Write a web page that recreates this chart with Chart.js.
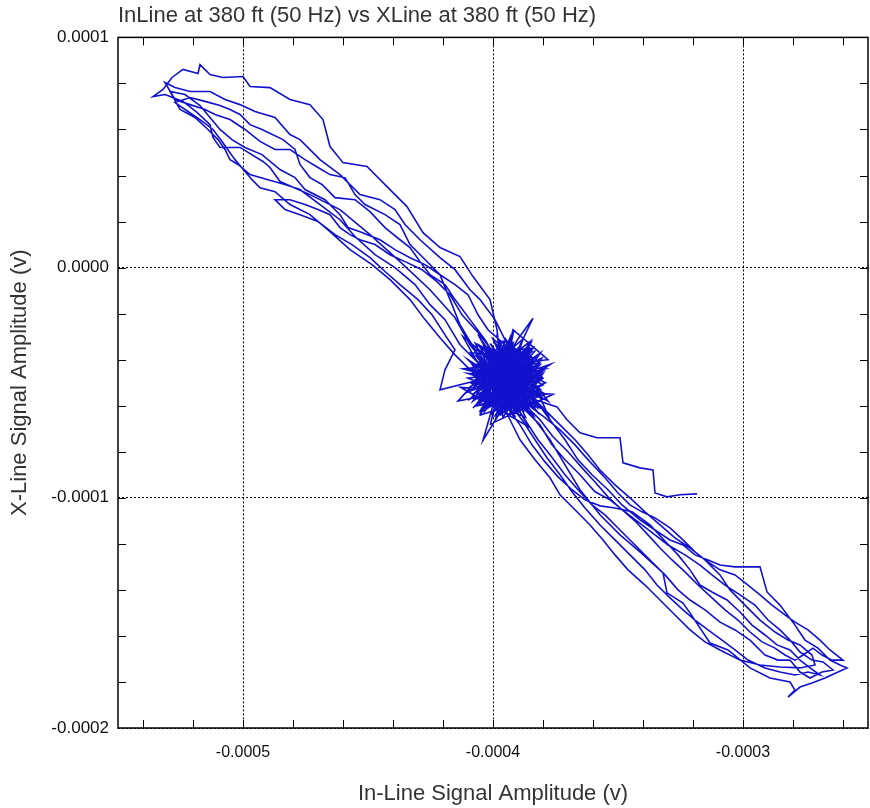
<!doctype html>
<html lang="en">
  <head>
    <meta charset="UTF-8" />
    <title>InLine vs XLine</title>
    <script src="https://cdn.jsdelivr.net/npm/chart.js"></script>
    <style>
      html, body { margin: 0; padding: 0; background: #fff; }
    </style>
  </head>
  <body>
    <canvas id="myChart" width="870" height="808"></canvas>
    <script>
      // trace, in microvolts: [in-line, x-line]
      const blobA = [[-395,-47],[-384,-44],[-405,-55],[-389,-36],[-398,-60],[-407,-42],[-382,-52],[-401,-35],[-392,-61],[-409,-50],[-385,-39],[-397,-58],[-404,-38],[-383,-57],[-400,-46],[-388,-62],[-406,-57],[-386,-34],[-394,-52],[-410,-46],[-381,-48],[-399,-37],[-391,-59],[-403,-51],[-384,-41],[-396,-63],[-404,-33],[-388,-50],[-402,-61],[-380,-45],[-407,-49],[-390,-38],[-393,-55],[-385,-60],[-400,-42]]
      const upper1 = [[-397.2,-40.0],[-398.4,-27.0],[-401.2,-13.9],[-408.0,-3.9],[-413.2,4.8],[-421.2,8.7],[-428.0,15.2],[-434.4,26.5],[-441.2,33.9],[-450.4,43.9],[-460.0,45.6],[-465.2,52.6],[-468.0,64.3],[-473.2,70.8],[-481.2,73.0],[-489.2,78.2],[-497.2,78.7],[-500.0,83.0],[-508.0,82.6],[-513.2,83.9],[-517.2,88.2],[-518.0,84.3],[-524.0,86.1],[-528.4,82.6],[-532.0,77.4],[-536.0,74.3],[-531.2,75.2],[-524.0,72.2],[-518.4,67.4],[-513.2,62.1],[-512.0,56.5],[-509.2,52.2],[-501.2,52.2],[-492.0,46.1],[-489.2,43.5],[-485.2,37.4],[-473.2,31.7],[-461.2,25.2],[-449.2,14.3],[-437.2,2.6],[-425.2,-9.6],[-415.2,-21.8],[-409.2,-33.5],[-401.2,-44.4]]
      const blobB = [[-398,-45],[-386,-58],[-404,-40],[-381,-42],[-399,-62],[-392,-33],[-408,-53],[-387,-47],[-401,-57],[-383,-36],[-396,-50],[-410,-40],[-389,-63],[-394,-40],[-406,-60],[-382,-55],[-391,-44],[-403,-47],[-385,-32],[-397,-54],[-408,-35],[-379,-50],[-395,-58],[-402,-38],[-387,-55],[-393,-30],[-405,-63],[-384,-48],[-399,-51],[-389,-41]]
      const lower1 = [[-389.2,-50.9],[-383.2,-57.4],[-377.2,-66.1],[-371.2,-74.8],[-366.0,-83.5],[-360.4,-90.0],[-354.0,-96.5],[-348.4,-103.1],[-341.2,-109.6],[-335.2,-114.0],[-329.2,-118.3],[-324.0,-120.5],[-319.2,-124.8],[-314.0,-127.0],[-309.2,-129.2],[-303.2,-130.0],[-298.0,-130.0],[-293.2,-130.0],[-290.4,-140.9],[-285.2,-146.6],[-279.2,-155.3],[-275.2,-161.8],[-270.0,-165.3],[-265.2,-170.5],[-261.2,-172.6],[-258.4,-173.9],[-262.0,-175.7],[-267.2,-178.3],[-272.4,-180.5],[-277.2,-182.2],[-282.0,-186.6],[-279.2,-183.5],[-281.2,-180.0],[-289.2,-178.3],[-297.2,-173.9],[-306.0,-166.1],[-313.2,-163.1],[-321.2,-150.0],[-324.0,-145.7],[-330.4,-141.3],[-332.0,-132.6],[-341.2,-123.5],[-349.2,-116.1],[-357.2,-107.4],[-365.2,-96.5],[-371.2,-85.7],[-377.2,-74.8],[-383.2,-66.1],[-389.2,-57.4]]
      const blobF = [[-390,-50],[-404,-44],[-386,-61],[-399,-33],[-381,-53],[-407,-60],[-393,-38],[-384,-47],[-401,-64],[-396,-42],[-379,-44],[-405,-51],[-389,-34],[-398,-56],[-383,-39],[-409,-37],[-392,-60],[-387,-43],[-403,-58],[-395,-31],[-380,-57],[-400,-48],[-391,-65],[-406,-41],[-385,-50],[-397,-46],[-382,-63],[-402,-34],[-394,-57],[-388,-37],[-408,-55],[-390,-44],[-399,-61],[-384,-35],[-404,-49],[-393,-53],[-381,-40],[-396,-65],[-401,-39],[-387,-57]]
      const upper2 = [[-393.2,-35.7],[-399.2,-22.6],[-405.2,-13.9],[-409.2,-9.6],[-415.2,-0.9],[-421.2,4.3],[-429.2,12.1],[-435.2,18.7],[-439.2,25.2],[-445.2,29.5],[-453.2,31.7],[-461.2,40.4],[-469.2,46.9],[-477.2,55.6],[-481.2,57.8],[-487.2,65.2],[-495.2,67.8],[-501.2,70.8],[-507.2,73.0],[-513.2,76.5],[-521.2,76.5],[-527.2,78.2],[-531.2,80.4],[-527.2,73.0],[-521.2,70.8],[-515.2,68.7],[-511.2,66.5],[-505.2,64.3],[-499.2,60.0],[-493.2,54.8],[-487.2,51.3],[-481.2,51.3],[-475.2,46.9],[-470.0,43.5],[-465.2,40.4],[-459.2,39.1],[-455.2,31.7],[-451.2,27.4],[-443.2,23.0],[-437.2,18.7],[-433.2,10.0],[-427.2,3.5],[-421.2,-3.1],[-417.2,-13.9],[-413.2,-24.8],[-407.2,-35.7],[-399.2,-48.7]]
      const blobC = [[-392,-48],[-412,-30],[-398,-57],[-385,-42],[-409,-57],[-394,-36],[-378,-58],[-401,-44],[-389,-55],[-405,-34],[-383,-50],[-397,-64],[-407,-45],[-386,-38],[-395,-54],[-414,-58],[-399,-40],[-381,-61],[-403,-55],[-390,-31],[-384,-22],[-392,-40],[-400,-59],[-387,-65],[-396,-44],[-408,-51],[-382,-46],[-398,-34],[-391,-56],[-404,-48]]
      const lower2 = [[-393.2,-55.3],[-387.2,-61.8],[-381.2,-68.3],[-376.4,-77.0],[-371.2,-83.5],[-365.2,-90.0],[-359.2,-97.4],[-353.2,-100.9],[-347.2,-106.1],[-340.4,-111.8],[-335.2,-116.1],[-330.0,-120.5],[-323.2,-124.8],[-317.2,-129.2],[-312.4,-133.5],[-307.2,-137.9],[-301.2,-142.2],[-295.2,-146.6],[-290.0,-153.1],[-285.2,-157.4],[-281.2,-161.8],[-277.2,-167.0],[-272.4,-170.5],[-268.0,-171.3],[-264.0,-174.8],[-268.4,-175.7],[-273.2,-178.3],[-277.2,-175.7],[-281.2,-170.5],[-286.0,-170.5],[-291.2,-168.3],[-297.2,-161.8],[-303.2,-157.4],[-309.2,-154.0],[-315.2,-148.7],[-321.2,-144.4],[-326.0,-140.0],[-331.2,-133.5],[-337.2,-127.0],[-343.2,-120.5],[-349.2,-114.0],[-355.2,-107.4],[-360.4,-103.1],[-366.0,-96.5],[-371.2,-90.0],[-377.2,-81.3],[-382.0,-74.8],[-387.2,-66.1],[-392.4,-57.4]]
      const blobG = [[-397,-52],[-386,-40],[-403,-62],[-391,-36],[-407,-46],[-383,-59],[-398,-39],[-389,-63],[-405,-35],[-380,-51],[-394,-58],[-402,-43],[-385,-45],[-399,-66],[-392,-29],[-408,-58],[-381,-37],[-396,-61],[-404,-52],[-388,-48],[-400,-35],[-384,-64],[-406,-44],[-390,-55],[-395,-38],[-382,-49],[-403,-56],[-393,-42],[-387,-61],[-409,-41],[-398,-60],[-385,-33],[-401,-50],[-391,-47],[-379,-55],[-405,-64],[-394,-34],[-388,-52],[-400,-44],[-396,-57]]
      const upper3 = [[-395.2,-33.5],[-402.0,-27.0],[-406.0,-20.5],[-410.0,-11.8],[-415.2,-7.4],[-421.2,-3.1],[-427.2,1.3],[-433.2,4.3],[-439.2,7.8],[-445.2,12.1],[-453.2,15.6],[-458.0,17.4],[-461.2,23.0],[-467.2,29.5],[-475.2,33.9],[-479.2,39.1],[-485.2,42.6],[-492.4,49.1],[-499.2,52.2],[-504.4,55.6],[-509.2,60.0],[-513.2,65.2],[-517.2,70.4],[-523.2,75.2],[-529.2,76.5],[-525.2,68.7],[-519.2,65.2],[-514.0,60.0],[-510.0,55.6],[-507.2,51.3],[-505.2,46.9],[-502.0,44.8],[-497.2,40.4],[-490.0,38.2],[-483.2,36.1],[-477.2,33.9],[-469.2,27.4],[-461.2,20.8],[-455.2,13.5],[-447.2,5.6],[-439.2,0.0],[-431.2,-7.4],[-425.2,-16.1],[-419.2,-22.6],[-413.2,-33.5],[-405.2,-42.2]]
      const lower3 = [[-397.2,-57.4],[-393.2,-66.1],[-389.2,-74.8],[-383.2,-83.5],[-377.2,-91.3],[-373.2,-98.7],[-367.2,-105.2],[-361.2,-111.8],[-356.0,-118.3],[-351.2,-124.8],[-346.0,-131.3],[-339.2,-137.9],[-333.2,-144.4],[-327.2,-150.9],[-321.2,-157.4],[-315.2,-162.6],[-309.2,-166.1],[-301.2,-170.5],[-293.2,-172.6],[-285.2,-173.5],[-277.2,-173.9],[-271.2,-172.6],[-272.4,-168.3],[-277.2,-163.9],[-282.0,-161.8],[-287.2,-158.3],[-293.2,-153.1],[-299.2,-146.6],[-305.2,-140.0],[-309.2,-133.5],[-315.2,-127.0],[-321.2,-121.8],[-327.2,-117.4],[-333.2,-111.8],[-339.2,-106.1],[-345.2,-100.0],[-351.2,-94.4],[-357.2,-87.9],[-362.0,-81.3],[-367.2,-74.8],[-373.2,-68.3],[-379.2,-61.8],[-385.2,-55.3]]
      const blobD = [[-396,-49],[-377,-42],[-391,-52],[-404,-75],[-399,-56],[-386,-45],[-402,-36],[-388,-60],[-409,-44],[-385,-53],[-397,-39],[-393,-62],[-406,-55],[-380,-39],[-400,-50],[-390,-35],[-378,-64],[-395,-45],[-405,-62],[-387,-51],[-401,-41],[-383,-60],[-398,-31],[-392,-56],[-410,-48],[-384,-44],[-396,-60],[-388,-38],[-403,-53],[-394,-47]]
      const blobH = [[-394,-50],[-406,-39],[-389,-58],[-400,-31],[-383,-46],[-404,-61],[-391,-41],[-386,-54],[-408,-50],[-397,-35],[-382,-60],[-402,-47],[-390,-63],[-398,-42],[-385,-37],[-405,-56],[-393,-33],[-380,-48],[-399,-64],[-387,-44],[-410,-54],[-395,-40],[-384,-57],[-401,-37],[-392,-59],[-406,-48],[-388,-31],[-397,-62],[-383,-43],[-403,-53],[-390,-39],[-400,-57],[-386,-50],[-407,-33],[-394,-64],[-381,-53],[-398,-45],[-392,-36],[-404,-58],[-389,-47]]
      const upper4 = [[-397.2,-42.2],[-403.2,-31.3],[-409.2,-22.6],[-415.2,-13.9],[-419.2,-7.4],[-425.2,-3.1],[-429.2,2.6],[-433.2,8.7],[-437.2,12.1],[-443.2,17.4],[-449.2,24.3],[-455.2,29.5],[-463.2,30.4],[-468.4,36.1],[-473.2,39.1],[-477.2,44.8],[-479.2,51.3],[-484.0,55.6],[-492.4,60.0],[-497.2,62.1],[-501.2,66.5],[-505.2,68.7],[-509.2,70.4],[-515.2,72.2],[-521.2,73.9],[-527.2,71.7],[-522.0,67.8],[-517.2,64.3],[-512.0,60.0],[-508.4,54.8],[-503.2,46.9],[-499.2,41.7],[-496.4,38.2],[-493.2,34.7],[-487.2,33.0],[-481.2,27.4],[-473.2,23.0],[-465.2,15.6],[-457.2,7.8],[-448.4,1.3],[-441.2,-5.2],[-433.2,-13.9],[-427.2,-22.6],[-421.2,-30.5],[-415.2,-37.9],[-407.2,-46.5]]
      const lower4 = [[-391.2,-53.1],[-386.0,-59.6],[-379.2,-65.2],[-373.2,-70.5],[-367.2,-77.0],[-361.2,-84.4],[-355.2,-91.3],[-350.0,-97.9],[-345.2,-103.1],[-340.4,-106.1],[-335.2,-108.7],[-329.2,-113.1],[-324.0,-118.3],[-319.2,-123.5],[-314.0,-127.9],[-309.2,-131.3],[-303.2,-133.5],[-298.0,-137.9],[-293.2,-142.2],[-288.4,-146.6],[-283.2,-150.9],[-279.2,-154.0],[-274.0,-157.4],[-269.2,-161.8],[-265.2,-166.1],[-260.0,-170.5],[-264.4,-170.5],[-268.4,-168.3],[-272.0,-165.3],[-276.0,-168.3],[-279.2,-170.5],[-283.2,-168.3],[-287.2,-165.3],[-292.4,-162.6],[-297.2,-158.3],[-302.0,-153.1],[-307.2,-148.7],[-312.4,-143.5],[-318.0,-137.9],[-323.2,-132.2],[-328.4,-127.0],[-333.2,-121.8],[-338.0,-116.1],[-342.8,-110.5],[-348.4,-105.2],[-354.0,-99.6],[-359.2,-93.1],[-364.4,-87.0],[-370.0,-80.0],[-376.0,-73.5],[-381.2,-66.1],[-387.2,-59.6]]
      const blobI = [[-395,-44],[-387,-56],[-402,-40],[-384,-51],[-398,-63],[-393,-34],[-406,-52],[-389,-39],[-400,-55],[-382,-42],[-396,-59],[-404,-45],[-391,-62],[-386,-36],[-408,-61],[-397,-48],[-383,-62],[-401,-33],[-390,-52],[-405,-42],[-385,-58],[-399,-38],[-392,-64],[-380,-46],[-403,-60],[-394,-41],[-388,-54],[-407,-47],[-396,-32],[-384,-55]]
      const upper5 = [[-399.2,-37.9],[-405.2,-29.2],[-412.4,-20.5],[-417.2,-11.8],[-422.4,-6.1],[-428.4,-0.9],[-435.2,2.6],[-441.2,5.6],[-447.2,10.0],[-453.2,12.1],[-457.2,14.3],[-461.2,17.4],[-465.2,23.0],[-470.0,25.2],[-475.2,27.4],[-481.2,29.5],[-487.2,29.5],[-483.2,25.2],[-477.2,23.0],[-470.0,20.0],[-463.2,14.3],[-456.4,10.0],[-449.2,4.3],[-443.2,-1.7],[-437.2,-7.4],[-430.0,-13.9],[-424.4,-20.5],[-419.2,-29.2],[-415.2,-35.7],[-419.2,-44.4],[-421.2,-53.1],[-413.2,-50.9],[-405.2,-48.7]]
      const blobE = [[-393,-46],[-401,-53],[-386,-49],[-397,-36],[-390,-59],[-405,-46],[-383,-54],[-399,-43],[-388,-42],[-402,-58],[-392,-52],[-385,-35],[-407,-38],[-395,-55],[-381,-45],[-398,-48],[-412,-44],[-378,-40],[-392,-27],[-401,-68],[-376,-55],[-413,-52],[-386,-69],[-406,-29],[-394,-49]]
      const lower5 = [[-395.2,-59.6],[-389.2,-68.3],[-384.4,-77.0],[-379.2,-84.4],[-374.0,-90.9],[-368.4,-96.5],[-363.2,-100.9],[-357.2,-103.5],[-351.2,-104.4],[-344.4,-106.1],[-337.2,-111.8],[-331.6,-118.3],[-326.0,-124.8],[-321.2,-131.3],[-317.2,-137.9],[-312.4,-140.9],[-306.4,-144.4],[-301.2,-149.6],[-296.4,-155.3],[-291.2,-159.6],[-286.4,-163.9],[-281.2,-166.1],[-277.2,-170.5],[-273.2,-173.9],[-269.2,-177.0],[-274.0,-175.7],[-279.2,-177.0],[-285.2,-175.7],[-291.2,-173.9],[-298.0,-170.5],[-303.2,-166.1],[-308.4,-161.8],[-314.0,-157.4],[-319.2,-153.1],[-324.0,-148.7],[-329.2,-143.5],[-334.4,-137.9],[-339.2,-131.3],[-345.2,-124.8],[-351.2,-118.3],[-357.2,-111.8],[-363.2,-104.4],[-368.4,-97.4],[-373.2,-90.0],[-378.4,-82.6],[-383.2,-74.8],[-388.4,-66.1],[-393.2,-59.6]]
      const tail = [[-395.2,-50.9],[-385.2,-56.6],[-374.4,-60.5],[-370.4,-66.1],[-365.2,-71.8],[-358.4,-73.9],[-349.2,-73.9],[-348.0,-84.8],[-341.2,-87.0],[-336.0,-87.9],[-335.2,-97.9],[-330.4,-99.6],[-325.2,-98.7],[-318.4,-98.3]]

      const traceOrder = [blobA, upper1, blobB, lower1, blobF, upper2, blobC, lower2, blobG, upper3, lower3, blobD, blobH, upper4, lower4, blobI, upper5, blobE, lower5, tail]

      const xTickValues = [-0.0005, -0.0004, -0.0003]
      const xTickLabels = ['-0.0005', '-0.0004', '-0.0003']
      const yTickValues = [-0.0002, -0.0001, 0, 0.0001]
      const yTickLabels = ['-0.0002', '-0.0001', '0.0000', '0.0001']

      const FONT = "'Liberation Sans', Arial, Helvetica, sans-serif"
      const LINE_COLOR = 'rgb(18, 18, 205)'

      const points = traceOrder.flat().map(([x, y]) => ({ x: x * 1e-6, y: y * 1e-6 }))

      // frame + inward tick marks on all four sides
      const frameTicks = {
        id: 'frameTicks',
        afterDraw(chart) {
          const { ctx, chartArea: a, scales } = chart
          ctx.save()
          ctx.strokeStyle = '#000'
          ctx.lineWidth = 1
          const len = 8
          ctx.beginPath()
          for (let i = 0; i <= 15; i++) {
            const px = Math.round(scales.x.getPixelForValue(-0.00054 + i * 0.00002)) + 0.5
            if (px <= a.left || px >= a.right) continue
            ctx.moveTo(px, a.bottom); ctx.lineTo(px, a.bottom - len)
            ctx.moveTo(px, a.top); ctx.lineTo(px, a.top + len)
          }
          for (let i = 0; i <= 15; i++) {
            const py = Math.round(scales.y.getPixelForValue(-0.00018 + i * 0.00002)) + 0.5
            if (py <= a.top || py >= a.bottom) continue
            ctx.moveTo(a.left, py); ctx.lineTo(a.left + len, py)
            ctx.moveTo(a.right, py); ctx.lineTo(a.right - len, py)
          }
          ctx.stroke()
          ctx.lineWidth = 1.5
          ctx.strokeRect(a.left, a.top, a.right - a.left, a.bottom - a.top)
          ctx.restore()
        }
      }

      const ctx = document.getElementById('myChart').getContext('2d')
      new Chart(ctx, {
        type: 'scatter',
        data: {
          datasets: [
            {
              data: points,
              showLine: true,
              borderColor: LINE_COLOR,
              borderWidth: 1.6,
              pointRadius: 0,
              tension: 0,
              fill: false
            }
          ]
        },
        options: {
          responsive: false,
          animation: false,
          devicePixelRatio: 1,
          layout: { padding: { left: 0, right: 2, top: 0, bottom: 0 } },
          plugins: {
            legend: { display: false },
            tooltip: { enabled: false },
            title: {
              display: true,
              text: 'InLine at 380 ft (50 Hz) vs XLine at 380 ft (50 Hz)',
              align: 'start',
              fullSize: false,
              color: '#333',
              font: { family: FONT, size: 22, weight: 'normal' },
              padding: { top: 3, bottom: 8 }
            }
          },
          scales: {
            x: {
              type: 'linear',
              min: -0.00055,
              max: -0.00025,
              afterBuildTicks: (s) => { s.ticks = xTickValues.map((v) => ({ value: v })) },
              afterFit: (s) => { s.height = 80 },
              ticks: {
                color: '#111',
                padding: 15,
                maxRotation: 0,
                font: { family: FONT, size: 16 },
                callback: (v) => xTickLabels[xTickValues.indexOf(v)]
              },
              grid: { color: '#000', lineWidth: 1, drawTicks: false },
              border: { display: false, dash: [2, 2] },
              title: {
                display: true,
                text: 'In-Line Signal Amplitude (v)',
                color: '#333',
                font: { family: FONT, size: 22 },
                padding: { top: 0, bottom: 1 }
              }
            },
            y: {
              type: 'linear',
              min: -0.0002,
              max: 0.0001,
              afterBuildTicks: (s) => { s.ticks = yTickValues.map((v) => ({ value: v })) },
              afterFit: (s) => { s.width = 118 },
              ticks: {
                color: '#111',
                padding: 9,
                font: { family: FONT, size: 17 },
                callback: (v) => yTickLabels[yTickValues.indexOf(v)]
              },
              grid: { color: '#000', lineWidth: 1, drawTicks: false },
              border: { display: false, dash: [2, 2] },
              title: {
                display: true,
                text: 'X-Line Signal Amplitude (v)',
                color: '#333',
                font: { family: FONT, size: 22 },
                padding: { top: 7, bottom: 0 }
              }
            }
          }
        },
        plugins: [frameTicks]
      })
    </script>
  </body>
</html>
